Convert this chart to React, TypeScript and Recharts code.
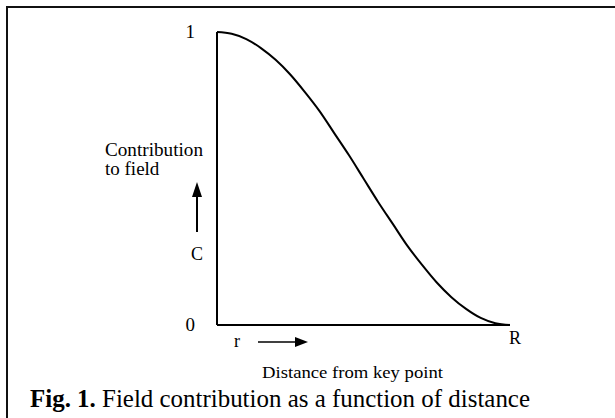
import React from 'react';
import { LineChart, Line, XAxis, YAxis } from 'recharts';

// Distance from key point (fraction of R) and contribution to field C
const distances = [0, 0.05, 0.1, 0.15, 0.2, 0.25, 0.3, 0.35, 0.4, 0.45, 0.5, 0.55, 0.6, 0.65, 0.7, 0.75, 0.8, 0.85, 0.9, 0.95, 1];
const contributions = [1, 0.994, 0.976, 0.945, 0.905, 0.855, 0.795, 0.73, 0.655, 0.58, 0.5, 0.42, 0.345, 0.27, 0.205, 0.145, 0.095, 0.055, 0.024, 0.006, 0];
const yTicks = [0, 1];
const xTicks = [1];
const xTickLabels = ['R'];

const data = distances.map((x, i) => ({ x, c: contributions[i] }));

const FONT = '"Liberation Serif", "Times New Roman", Times, serif';

const renderXTick = (props: any) => {
  const { x, y, payload, index } = props;
  const idx = xTicks.indexOf(payload.value);
  return (
    <text x={x + 5} y={y + 13} textAnchor="middle" fontFamily={FONT} fontSize={18} fill="#000">
      {xTickLabels[idx >= 0 ? idx : index]}
    </text>
  );
};

const renderYTick = (props: any) => {
  const { x, y, payload } = props;
  return (
    <text x={x} y={y + 6} textAnchor="end" fontFamily={FONT} fontSize={19} fill="#000">
      {String(payload.value)}
    </text>
  );
};

export default function App() {
  return (
    <div style={{ position: 'absolute', left: 0, top: 0, width: 615, height: 418, background: '#fff', overflow: 'hidden' }}>
      <div
        style={{
          position: 'absolute',
          left: 6,
          top: 6,
          right: 0,
          bottom: 0,
          borderLeft: '2px solid #111',
          borderTop: '2px solid #111',
        }}
      />
      <div style={{ position: 'absolute', left: 0, top: 0 }}>
        <LineChart width={615} height={418} data={data} margin={{ top: 32, right: 105, bottom: 63, left: 157 }}>
          <XAxis
            type="number"
            dataKey="x"
            domain={[0, 1]}
            ticks={xTicks}
            tickLine={false}
            axisLine={{ stroke: '#000', strokeWidth: 2 }}
            height={30}
            tick={renderXTick}
            tickMargin={0}
          />
          <YAxis
            type="number"
            domain={[0, 1]}
            ticks={yTicks}
            width={60}
            tickLine={false}
            axisLine={{ stroke: '#000', strokeWidth: 2 }}
            tick={renderYTick}
            tickMargin={16}
          />
          <Line
            dataKey="c"
            type="monotone"
            stroke="#000"
            strokeWidth={2}
            dot={false}
            isAnimationActive={false}
          />
        </LineChart>
      </div>
      <svg width={615} height={418} style={{ position: 'absolute', left: 0, top: 0, pointerEvents: 'none' }}>
        <g fontFamily={FONT} fill="#000">
          <text x={105} y={156} fontSize={19} textLength={98} lengthAdjust="spacingAndGlyphs">Contribution</text>
          <text x={105} y={175} fontSize={19}>to field</text>
          <line x1={197} y1={232} x2={197} y2={194} stroke="#000" strokeWidth={2} />
          <polygon points="197,182 192,197 202,197" fill="#000" />
          <text x={197} y={260} fontSize={18} textAnchor="middle">C</text>
          <text x={237} y={347} fontSize={18} textAnchor="middle">r</text>
          <line x1={258} y1={342} x2={296} y2={342} stroke="#000" strokeWidth={1.5} />
          <polygon points="308,342 295,337 295,347" fill="#000" />
          <text x={262} y={378} fontSize={17.5} textLength={181} lengthAdjust="spacingAndGlyphs">Distance from key point</text>
          <text x={30} y={407} fontSize={25} textLength={500} lengthAdjust="spacingAndGlyphs">
            <tspan fontWeight="bold">Fig. 1.</tspan>
            <tspan> Field contribution as a function of distance</tspan>
          </text>
        </g>
      </svg>
    </div>
  );
}
